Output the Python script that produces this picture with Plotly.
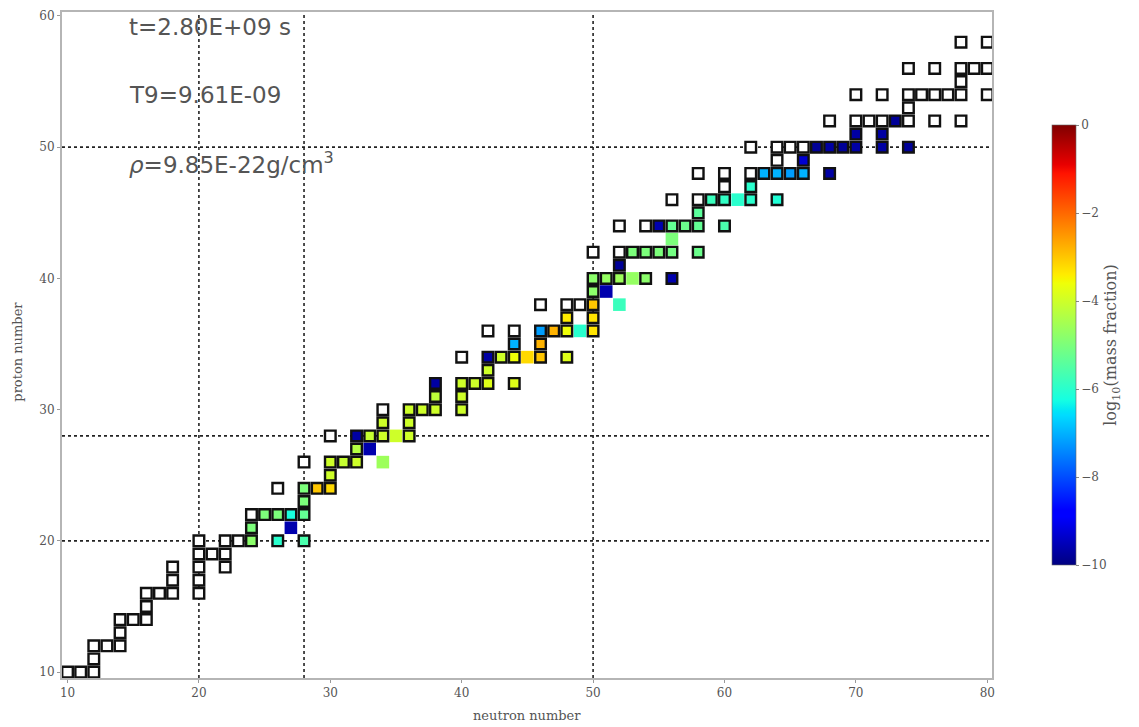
import plotly.graph_objects as go
import numpy as np

# ---------------- data ----------------
# stable nuclides: proton number Z, neutron number N, log10(mass fraction); None = not produced (white box)
stable_Z = ([10]*3 + [11] + [12]*3 + [13] + [14]*3 + [15] + [16]*4 + [17]*2 + [18]*3 + [19]*3 +
            [20]*6 + [21] + [22]*5 + [23] + [24]*4 + [25] + [26]*4 + [27] + [28]*5 + [29]*2 +
            [30]*5 + [31]*2 + [32]*5 + [33] + [34]*6 + [35]*2 + [36]*6 + [37]*2 + [38]*4 + [39] +
            [40]*5 + [41] + [42]*7 + [44]*7 + [45] + [46]*6 + [47]*2 + [48]*8 + [49]*2 + [50]*10 +
            [51]*2 + [52]*8 + [53] + [54]*8 + [55] + [56]*5 + [58]*2)
stable_N = [10, 11, 12,
            12,
            12, 13, 14,
            14,
            14, 15, 16,
            16,
            16, 17, 18, 20,
            18, 20,
            18, 20, 22,
            20, 21, 22,
            20, 22, 23, 24, 26, 28,
            24,
            24, 25, 26, 27, 28,
            28,
            26, 28, 29, 30,
            30,
            28, 30, 31, 32,
            32,
            30, 32, 33, 34, 36,
            34, 36,
            34, 36, 37, 38, 40,
            38, 40,
            38, 40, 41, 42, 44,
            42,
            40, 42, 43, 44, 46, 48,
            44, 46,
            42, 44, 46, 47, 48, 50,
            48, 50,
            46, 48, 49, 50,
            50,
            50, 51, 52, 54, 56,
            52,
            50, 52, 53, 54, 55, 56, 58,
            52, 54, 55, 56, 57, 58, 60,
            58,
            56, 58, 59, 60, 62, 64,
            60, 62,
            58, 60, 62, 63, 64, 65, 66, 68,
            64, 66,
            62, 64, 65, 66, 67, 68, 69, 70, 72, 74,
            70, 72,
            68, 70, 71, 72, 73, 74, 76, 78,
            74,
            70, 72, 74, 75, 76, 77, 78, 80,
            78,
            74, 76, 78, 79, 80,
            78, 80]
W = None
stable_logX = [W, W, W,
               W,
               W, W, W,
               W,
               W, W, W,
               W,
               W, W, W, W,
               W, W,
               W, W, W,
               W, W, W,
               W, W, W, -4.8, -6.0, -5.6,
               -5.0,
               W, -5.0, -5.0, -6.2, -5.3,
               -5.0,
               W, -5.0, -3.0, -3.2,
               -4.0,
               W, -4.0, -4.1, -4.0,
               -4.3,
               W, -9.7, -4.1, -4.0, -4.0,
               -4.0, -4.0,
               W, -4.0, -4.0, -4.0, -4.0,
               -4.2, -4.0,
               -9.7, -4.0, -4.0, -3.8, -3.8,
               -4.0,
               W, -9.7, -4.0, -3.6, -3.0, -3.8,
               -7.0, -2.8,
               W, W, -7.2, -2.8, -3.6, -3.3,
               -3.4, -3.3,
               W, W, W, -3.0,
               -4.8,
               -4.8, -4.7, -4.6, -4.8, -9.6,
               -9.8,
               W, W, -5.0, -5.0, -5.0, -5.1, -5.2,
               W, W, -9.6, -5.3, -5.2, -5.3, -5.6,
               -5.4,
               W, W, -5.8, -5.9, -6.0, -6.1,
               W, -6.0,
               W, W, W, -7.0, -7.0, -7.2, -7.0, -9.7,
               W, -9.3,
               W, W, W, W, -9.8, -9.7, -9.8, -9.7, -9.7, -9.8,
               -9.7, -9.7,
               W, W, W, W, -9.8, W, W, W,
               W,
               W, W, W, W, W, W, W, W,
               W,
               W, W, W, W, W,
               W, W]

# unstable nuclides still present
unstable_Z = [21, 26, 27, 28, 34, 36, 38, 39, 40, 43, 46]
unstable_N = [27, 34, 33, 35, 45, 49, 52, 51, 53, 56, 61]
unstable_logX = [-9.6, -4.6, -9.6, -4.0, -3.2, -6.0, -5.8, -9.6, -4.7, -5.0, -6.0]

# magic numbers (dashed guide lines)
magic_N = [20, 28, 50]
magic_Z = [20, 28, 50]

x_ticks = [10, 20, 30, 40, 50, 60, 70, 80]
y_ticks = [10, 20, 30, 40, 50, 60]
cbar_ticks = [-10, -8, -6, -4, -2, 0]
cbar_ticktext = ["\u221210", "\u22128", "\u22126", "\u22124", "\u22122", "0"]

info_lines = ["t=2.80E+09 s", "T9=9.61E-09", "<i>\u03c1</i>=9.85E-22g/cm<sup>3</sup>"]
x_title = "neutron number"
y_title = "proton number"
cbar_title = "log<sub>10</sub>(mass fraction)"

# ---------------- matplotlib "jet" colormap ----------------
jet_pts = [0, 0.11, 0.125, 0.34, 0.35, 0.375, 0.64, 0.65, 0.66, 0.89, 0.91, 1.0]
def seg(x, pts):
    xs = [p[0] for p in pts]; ys = [p[1] for p in pts]
    return float(np.interp(x, xs, ys))
red = [(0, 0), (0.35, 0), (0.66, 1), (0.89, 1), (1, 0.5)]
green = [(0, 0), (0.125, 0), (0.375, 1), (0.64, 1), (0.91, 0), (1, 0)]
blue = [(0, 0.5), (0.11, 1), (0.34, 1), (0.65, 0), (1, 0)]
jet = [[p, "rgb(%d,%d,%d)" % (round(255*seg(p, red)), round(255*seg(p, green)), round(255*seg(p, blue)))]
       for p in jet_pts]

# ---------------- figure ----------------
sZ = np.array(stable_Z); sN = np.array(stable_N)
sv = np.array([np.nan if v is None else v for v in stable_logX], dtype=float)
col = ~np.isnan(sv)

fig = go.Figure()

fig.add_trace(go.Scatter(
    x=unstable_N, y=unstable_Z, mode="markers",
    marker=dict(symbol="square", size=12.6, color=unstable_logX, coloraxis="coloraxis",
                line=dict(width=0)),
    hoverinfo="skip", showlegend=False))

fig.add_trace(go.Scatter(
    x=sN[~col], y=sZ[~col], mode="markers",
    marker=dict(symbol="square", size=10.6, color="white",
                line=dict(width=2.4, color="#111111")),
    hoverinfo="skip", showlegend=False))

fig.add_trace(go.Scatter(
    x=sN[col], y=sZ[col], mode="markers",
    marker=dict(symbol="square", size=10.6, color=sv[col], coloraxis="coloraxis",
                line=dict(width=2.4, color="#111111")),
    hoverinfo="skip", showlegend=False))

xr = [9.58, 80.36]
yr = [9.55, 60.3]
for n in magic_N:
    fig.add_shape(type="line", x0=n, x1=n, y0=yr[0], y1=yr[1], xref="x", yref="y",
                  line=dict(color="#222222", width=1.6, dash="3px,3px"), layer="below")
for z in magic_Z:
    fig.add_shape(type="line", x0=xr[0], x1=xr[1], y0=z, y1=z, xref="x", yref="y",
                  line=dict(color="#222222", width=1.6, dash="3px,3px"), layer="below")

for txt, yy in zip(info_lines, [0.977, 0.875, 0.773]):
    fig.add_annotation(text=txt, x=0.070, y=yy, xref="paper", yref="paper",
                       xanchor="left", yanchor="middle", showarrow=False,
                       font=dict(family="DejaVu Sans", size=23, color="#555555"))

serif = "DejaVu Serif"
fig.add_annotation(text=x_title, x=0.5, y=-0.057, xref="paper", yref="paper",
                   xanchor="center", yanchor="middle", showarrow=False,
                   font=dict(family=serif, size=13, color="#555555"))
fig.add_annotation(text=y_title, x=-0.0473, y=0.49, xref="paper", yref="paper",
                   xanchor="center", yanchor="middle", showarrow=False, textangle=-90,
                   font=dict(family=serif, size=13, color="#555555"))

# the page body adds an 8 px margin, so the margins are shifted to keep the plot in place
fig.update_layout(
    width=1131, height=719,
    margin=dict(l=54, r=147, t=4, b=49, autoexpand=False),
    paper_bgcolor="white", plot_bgcolor="white",
    coloraxis=dict(
        colorscale=jet, cmin=-10, cmax=0,
        colorbar=dict(
            x=1.0645, xanchor="left", xpad=0, y=0.5, yanchor="middle", ypad=0,
            len=440, lenmode="pixels", thickness=24,
            tickvals=cbar_ticks, ticktext=cbar_ticktext,
            ticks="outside", ticklen=3, tickcolor="#888888",
            tickfont=dict(family=serif, size=12, color="#555555"),
            outlinewidth=0.6, outlinecolor="#666666",
            title=dict(text=cbar_title, side="right",
                       font=dict(family=serif, size=16, color="#555555")))),
    xaxis=dict(range=xr, tickvals=x_ticks, showgrid=False, zeroline=False, automargin=False,
               showline=True, mirror=True, linecolor="#b5b5b5", linewidth=2,
               ticks="outside", ticklen=3, tickcolor="#999999",
               tickfont=dict(family=serif, size=12, color="#555555")),
    yaxis=dict(range=yr, tickvals=y_ticks, showgrid=False, zeroline=False, automargin=False,
               showline=True, mirror=True, linecolor="#b5b5b5", linewidth=2,
               ticks="outside", ticklen=3, tickcolor="#999999",
               tickfont=dict(family=serif, size=12, color="#555555")),
)

fig.write_html("out.html")
